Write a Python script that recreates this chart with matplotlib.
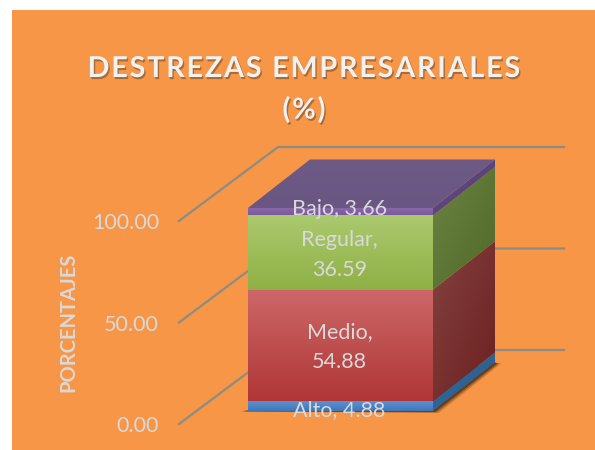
import numpy as np
import matplotlib
matplotlib.use("Agg")
import matplotlib.pyplot as plt
import matplotlib.patheffects as pe
from matplotlib.patches import Polygon, Rectangle

# values
levels = ["Alto", "Medio", "Regular", "Bajo"]
values = [4.88, 54.88, 36.59, 3.66]
label_text = ["Alto, 4.88", "Medio,\n54.88", "Regular,\n36.59", "Bajo, 3.66"]
label_nudge = [-2, -1, -1.2, 1.2]
ticks = [0, 50, 100]
tick_labels = ["0.00", "50.00", "100.00"]
title_lines = ["DESTREZAS EMPRESARIALES", "(%)"]

# colours: front top, front bottom, side light, side dark
colors = [
    ("#5b92d4", "#3f76b8", "#386a9c", "#2a5a8c"),
    ("#cd6868", "#b03636", "#83423f", "#6c2020"),
    ("#abc96e", "#8fb045", "#6c8243", "#4f6a28"),
    ("#8a68aa", "#7a5a9c", "#5f4a80", "#554078"),
]
ORANGE = "#f79646"
TXT = "#d9d9d9"

SCALE = 2.03      # pixels per percent
DX, DY = 62, 48.5 / SCALE
LEFT, RIGHT = 248, 433
FLOOR = -13 / SCALE
RISE = 74 / SCALE

fig = plt.figure(figsize=(5.95, 4.5), dpi=100, facecolor="white")
ax = fig.add_axes([0, 0, 1, 1])
ymin, ymax = (411 - 450) / SCALE, 411 / SCALE
ax.set_xlim(0, 595)
ax.set_ylim(ymin, ymax)
ax.axis("off")

ax.add_patch(Rectangle((12, ymin), 583, 440 / SCALE, fc=ORANGE, ec="none", zorder=0))


def grad_fill(pts, c1, c2, diagonal=False, z=3):
    poly = Polygon(pts, closed=True, fc="none", ec="none", zorder=z)
    ax.add_patch(poly)
    pts = np.array(pts)
    n = 64
    yy, xx = np.mgrid[0:1:n * 1j, 0:1:n * 1j]
    t = (yy + xx) / 2 if diagonal else yy
    a = np.array(matplotlib.colors.to_rgb(c1))
    b = np.array(matplotlib.colors.to_rgb(c2))
    img = a + (b - a) * t[..., None]
    extent = (pts[:, 0].min(), pts[:, 0].max(), pts[:, 1].min(), pts[:, 1].max())
    im = ax.imshow(img, extent=extent, origin="upper", aspect="auto", zorder=z, interpolation="bilinear")
    im.set_clip_path(poly)


# back wall grid lines
for t in ticks:
    ax.plot([179, 278, 564], [t + FLOOR, t + FLOOR + RISE, t + FLOOR + RISE],
            color="#8c8c84", lw=1.6, zorder=1, solid_joinstyle="miter")

# soft floor shadow under the stack
for grow, alpha in [(6, 0.2), (4, 0.35), (2, 0.55)]:
    ax.add_patch(Polygon([(LEFT - 2 - grow, -0.2), (RIGHT, -0.2 - grow / 8), (RIGHT + grow, -0.2 - grow / 8),
                          (RIGHT + DX + grow, DY - 0.5), (RIGHT + DX, DY)],
                         fc="#3c2208", ec="none", alpha=alpha, zorder=2))

bottom = 0
for i, v in enumerate(values):
    top = bottom + v
    grad_fill([(LEFT, bottom), (RIGHT, bottom), (RIGHT, top), (LEFT, top)], colors[i][0], colors[i][1])
    grad_fill([(RIGHT, bottom), (RIGHT + DX, bottom + DY), (RIGHT + DX, top + DY), (RIGHT, top)],
              colors[i][2], colors[i][3], diagonal=True)
    bottom = top

# lid of the stack
grad_fill([(LEFT, bottom), (RIGHT, bottom), (RIGHT + DX, bottom + DY), (LEFT + DX, bottom + DY)],
          "#6d5a85", "#6a5682", z=4)

# data labels
bottom = 0
for i, v in enumerate(values):
    mid = bottom + v / 2 + label_nudge[i]
    ax.text((LEFT + RIGHT) / 2 - 1, mid, label_text[i], color=TXT, fontsize=15.5, family="Lato",
            ha="center", va="center", linespacing=1.62, zorder=6)
    bottom += v

# axis labels
for t, lab in zip(ticks, tick_labels):
    ax.text(159, t + FLOOR - 1.2, lab, color=TXT, fontsize=15.5, family="Lato", ha="right", va="center", zorder=6)
ax.text(68, (411 - 322) / SCALE, "PORCENTAJES", rotation=90, color=TXT, fontsize=14.5,
        family="Lato", weight="bold", ha="center", va="center", zorder=6)

# title, hair spaces stand in for the letter spacing
shadow = [pe.withSimplePatchShadow(offset=(1, -1.5), shadow_rgbFace="#8a5a30", alpha=0.7)]
for line, py in zip(title_lines, [69, 110]):
    ax.text(304, (411 - py) / SCALE, "\u200a".join(line), color="#f2f2f2", fontsize=20.7,
            family=["Lato", "DejaVu Sans"], weight="bold", ha="center", va="center", zorder=6, path_effects=shadow)

ax.set_xlim(0, 595)
ax.set_ylim(ymin, ymax)
fig.savefig("out.png", dpi=100, facecolor="white")
